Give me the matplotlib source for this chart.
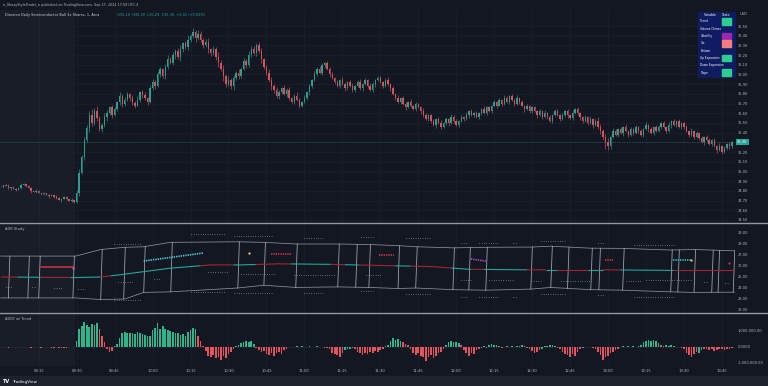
import numpy as np
import matplotlib.pyplot as plt
from matplotlib.lines import Line2D
from matplotlib.patches import Rectangle

W, H = 768, 386
BG = '#131722'
TXT = '#b2b5be'
UP, DN = '#26a69a', '#ef5350'
C_UP, C_DN = '#2f9c8c', '#d2545e'

# 1-minute closes, 09:00 .. 13:49
closes = [
    34.84, 34.86, 34.85, 34.83, 34.84, 34.82, 34.81, 34.83, 34.86, 34.87,
    34.85, 34.83, 34.80, 34.79, 34.80, 34.78, 34.77, 34.78, 34.76, 34.75,
    34.76, 34.74, 34.73, 34.71, 34.72, 34.74, 34.72, 34.70, 34.71, 34.69,
    34.78, 34.98, 35.15, 35.32, 35.45, 35.58, 35.50, 35.62, 35.55, 35.44,
    35.48, 35.56, 35.60, 35.66, 35.58, 35.64, 35.72, 35.78, 35.70, 35.74,
    35.80, 35.76, 35.71, 35.68, 35.74, 35.82, 35.79, 35.76, 35.72, 35.86,
    35.92, 35.88, 36.00, 36.06, 35.98, 36.08, 36.16, 36.12, 36.20, 36.24,
    36.18, 36.26, 36.32, 36.28, 36.36, 36.40, 36.44, 36.38, 36.42, 36.36,
    36.30, 36.34, 36.26, 36.22, 36.26, 36.18, 36.12, 36.06, 35.98, 35.90,
    35.94, 35.88, 35.96, 36.02, 35.98, 36.06, 36.14, 36.10, 36.20, 36.26,
    36.22, 36.30, 36.24, 36.16, 36.08, 36.02, 35.94, 35.88, 35.84, 35.78,
    35.82, 35.86, 35.80, 35.84, 35.76, 35.72, 35.78, 35.74, 35.68, 35.72,
    35.76, 35.82, 35.88, 35.94, 36.00, 36.06, 36.02, 36.10, 36.12, 36.06,
    36.00, 35.96, 35.92, 35.88, 35.94, 35.90, 35.86, 35.92, 35.88, 35.84,
    35.88, 35.92, 35.86, 35.90, 35.94, 35.88, 35.84, 35.90, 35.94, 35.96,
    35.92, 35.88, 35.94, 35.90, 35.86, 35.80, 35.76, 35.72, 35.76, 35.70,
    35.66, 35.72, 35.68, 35.64, 35.70, 35.66, 35.62, 35.58, 35.54, 35.58,
    35.52, 35.48, 35.54, 35.50, 35.46, 35.50, 35.54, 35.50, 35.56, 35.52,
    35.48, 35.52, 35.56, 35.54, 35.58, 35.62, 35.58, 35.60, 35.56, 35.60,
    35.64, 35.60, 35.66, 35.62, 35.68, 35.72, 35.68, 35.74, 35.70, 35.76,
    35.72, 35.78, 35.74, 35.70, 35.76, 35.72, 35.68, 35.64, 35.68, 35.62,
    35.66, 35.62, 35.58, 35.62, 35.56, 35.60, 35.56, 35.52, 35.58, 35.62,
    35.58, 35.54, 35.58, 35.62, 35.58, 35.55, 35.60, 35.64, 35.60, 35.56,
    35.52, 35.56, 35.50, 35.54, 35.48, 35.52, 35.46, 35.42, 35.36, 35.30,
    35.26, 35.36, 35.42, 35.38, 35.44, 35.40, 35.46, 35.42, 35.38, 35.44,
    35.40, 35.46, 35.42, 35.38, 35.44, 35.48, 35.44, 35.40, 35.46, 35.42,
    35.46, 35.50, 35.46, 35.42, 35.48, 35.52, 35.48, 35.52, 35.46, 35.50,
    35.46, 35.42, 35.38, 35.42, 35.36, 35.40, 35.34, 35.30, 35.36, 35.32,
    35.28, 35.32, 35.26, 35.22, 35.26, 35.20, 35.24, 35.28, 35.26, 35.30,
]
# wick lengths in cents
wick_up = ("1012011021" "0110210101" "1021011020" "3524346352" "2432321423"
           "2132412313" "3242134232" "3423524243" "2341325342" "4232413243"
           "3243124323" "2132312421" "3121423212" "2312132123" "1231213212"
           "2123121312" "2131212321" "1212312132" "2121312121" "1312121213"
           "2121312121" "1212131212" "2121213121" "1213124323" "5232121312"
           "1212131212" "2121312121" "1213121312" "2121312121")
wick_dn = ("0101201010" "1020101102" "0110201012" "2313243232" "3242312342"
           "1323123231" "2313232124" "2432332423" "3243234253" "2342321322"
           "2324232432" "3213212132" "1232121321" "3121213212" "2123121231"
           "1212312121" "3121213212" "2131212312" "1212131212" "2121213121"
           "1212121312" "2131212121" "1212312123" "2121312347" "4321213121"
           "2121213121" "1212131212" "2121312131" "1213121232")

# ADDY histogram, millions
addy = [
    -0.02, -0.03, 0.00, -0.04, -0.02, -0.03, -0.01, -0.02, -0.03, -0.02,
    -0.03, -0.02, -0.04, -0.03, -0.02, -0.03, -0.04, -0.02, -0.03, -0.02,
    -0.04, -0.05, -0.03, -0.04, -0.06, -0.05, -0.04, -0.03, -0.02, -0.03,
    0.40, 1.10, 1.30, 1.55, 1.40, 1.25, 1.45, 1.35, 1.50, 1.10,
    0.70, 0.30, -0.15, -0.30, -0.25, 0.05, 0.20, 0.55, 0.85, 0.95,
    0.85, 0.90, 0.88, 0.82, 0.92, 0.86, 0.80, 0.75, 0.68, 0.70,
    1.05, 1.20, 1.50, 1.15, 1.30, 1.10, 1.05, 1.00, 0.95, 0.90,
    0.85, 0.75, 0.80, 0.70, 0.95, 1.05, 1.20, 1.10, 0.70, 0.40,
    0.05, -0.25, -0.55, -0.65, -0.50, -0.70, -0.60, -0.80, -0.55, -0.70,
    -0.45, -0.30, -0.15, 0.05, 0.15, 0.25, 0.30, 0.35, 0.30, 0.40,
    0.20, -0.05, -0.20, -0.30, -0.25, -0.45, -0.50, -0.40, -0.55, -0.35,
    -0.30, -0.45, -0.20, -0.10, 0.02, 0.03, -0.02, 0.04, 0.02, 0.05,
    0.03, 0.02, 0.05, 0.03, 0.02, 0.04, 0.03, 0.02, -0.05, -0.08,
    -0.15, -0.35, -0.45, -0.50, -0.60, -0.40, -0.20, -0.10, -0.15, -0.05,
    -0.10, -0.30, -0.40, -0.50, -0.35, -0.45, -0.30, -0.40, -0.25, -0.30,
    -0.20, -0.10, 0.05, 0.15, 0.35, 0.55, 0.45, 0.50, 0.40, 0.30,
    0.20, 0.10, -0.15, -0.35, -0.50, -0.40, -0.55, -0.65, -0.85, -0.60,
    -0.50, -0.70, -0.55, -0.40, -0.30, -0.15, 0.10, 0.30, 0.35, 0.30,
    0.32, 0.28, 0.10, -0.20, -0.40, -0.55, -0.35, -0.45, -0.20, -0.10,
    -0.05, 0.05, -0.08, 0.10, 0.20, 0.15, 0.10, 0.05, -0.05, 0.03,
    0.05, 0.03, 0.08, -0.03, 0.04, 0.06, 0.10, 0.08, -0.05, -0.15,
    -0.25, -0.35, -0.30, -0.20, -0.10, 0.05, 0.08, 0.10, 0.15, 0.08,
    -0.05, -0.15, -0.30, -0.45, -0.50, -0.60, -0.45, -0.55, -0.30, -0.10,
    -0.05, 0.03, 0.02, -0.02, -0.05, -0.10, -0.30, -0.50, -0.80, -0.65,
    -0.55, -0.40, -0.30, -0.20, -0.10, 0.03, 0.05, 0.02, 0.04, 0.03,
    0.05, 0.02, 0.06, 0.15, 0.30, 0.40, 0.45, 0.38, 0.42, 0.35,
    0.25, 0.10, 0.08, 0.12, 0.06, 0.10, 0.05, 0.02, 0.03, -0.05,
    -0.15, -0.35, -0.50, -0.65, -0.45, -0.30, -0.40, -0.20, -0.10, -0.15,
    -0.20, -0.15, -0.25, -0.20, -0.10, -0.15, -0.20, -0.10, -0.15, -0.05,
]
addy_col = ("rrrrrrrrrr" "rrrrrrrrrr" "rrrrrrrrrr" "gggggggggr" "rrrrrggggg"
            "gggggggggg" "gggggggggg" "ggggggggrr" "rrrrrrrrrr" "rrrggggggg"
            "grrrrrrrrr" "rrrrggrggg" "ggggrgggrr" "rrrrrrgggg" "rrrrrrrrrr"
            "rrgggggggr" "rrrrrrrrrr" "rrrrrrgggg" "ggrrrrrrrr" "ggrgggggrg"
            "gggrggggrr" "rrrrgggggg" "rrrrrrrrrr" "gggrrrrrrr" "rrrrrggrgg"
            "grgggggggg" "grgggggrgr" "rrrrrrggrr" "rrrrrrrrrr")

time_ticks = [15, 30, 45, 60, 75, 90, 105, 120, 135, 150, 165, 180, 195,
              210, 225, 240, 255, 270, 285]
time_labels = ['09:15', '09:30', '09:45', '10:00', '10:15', '10:30', '10:45',
               '11:00', '11:15', '11:30', '11:45', '12:00', '12:15', '12:30',
               '12:45', '13:00', '13:15', '13:30', '13:45']

# ADR study: envelope knots (bar index, value)
adr_upper = [(0, 26.9), (29.6, 26.9), (39.5, 27.5), (49, 27.7), (56.5, 27.75),
             (67, 28.15), (93.7, 28.2), (104, 28.15), (116.6, 28.0), (133, 28.0),
             (146, 27.95), (157, 27.85), (164, 27.75), (178.7, 27.65), (191.7, 27.7),
             (209.5, 27.72), (217.4, 27.8), (233, 27.62), (245.8, 27.6),
             (264.8, 27.45), (274, 27.5), (290, 27.38)]
adr_lower = [(0, 23.1), (29.6, 23.1), (39.5, 22.95), (49, 23.0), (56.5, 23.6),
             (67, 23.65), (93.7, 24.0), (104, 24.25), (116.6, 24.05), (133, 24.1),
             (146, 24.05), (157, 23.95), (164, 24.0), (178.7, 23.85), (191.7, 23.8),
             (209.5, 23.9), (217.4, 24.05), (233, 23.85), (245.8, 23.8),
             (264.8, 23.65), (274, 23.6), (290, 23.62)]
adr_edges = [3, 10.7, 15, 28.5, 39.5, 48.6, 56.5, 67.2, 93.7, 104, 116.6, 133.2,
             140.3, 145.5, 157, 164, 178.7, 185, 191.7, 209.5, 217.4, 224, 233.2,
             236.4, 245.8, 264.8, 267.6, 274, 281, 283.5, 289.5]
top_dots = [(44.7, 55.3, 28.0), (75.1, 88.9, 28.9), (92, 107.5, 28.7),
            (119.8, 127.3, 28.55), (142.3, 147, 28.6), (160, 170, 28.55),
            (181.8, 184.6, 28.1), (189, 196.4, 28.1), (202.5, 204, 28.1),
            (213.4, 223.3, 28.27), (236, 239, 28.1), (250.2, 266, 27.95)]
bot_dots = [(44.7, 55.3, 22.9), (75.1, 88.9, 23.64), (92, 107.5, 23.55),
            (119.8, 127.3, 23.55), (142.3, 147, 23.73), (160, 170, 23.45),
            (181.8, 184.6, 23.18), (189, 196.4, 23.18), (202.5, 204, 23.18),
            (213.4, 223.3, 23.45), (236, 239, 23.36), (250.2, 266, 23.18)]
mid_dots = [(2, 5, 24.1), (12.3, 13.5, 24.1), (21, 24.5, 24.0), (30.4, 32.8, 23.9),
            (46.2, 52.6, 24.55), (60.5, 63.2, 24.82), (81.8, 89.7, 25.45),
            (94.9, 108.7, 25.27), (115.8, 132.4, 25.18), (144.3, 150.2, 25.18),
            (181.8, 185.8, 24.73), (192.9, 202.4, 24.73), (209.5, 213.4, 24.64),
            (221.3, 233.2, 24.64), (247, 253, 24.64), (255, 272.7, 24.73),
            (277.9, 279, 24.55), (286.3, 287.3, 24.45)]
mid_line = [(0, 25.0), (29.6, 24.95), (39.5, 25.0), (47, 25.2), (67, 25.8),
            (83, 26.1), (95, 26.1), (110, 26.2), (130, 26.15), (150, 26.05),
            (170, 25.95), (185, 25.7), (210, 25.65), (240, 25.65), (265, 25.6),
            (290, 25.6)]
mid_breaks = [0, 6.7, 15.8, 27.7, 39.5, 43.5, 79, 92, 100.8, 114.6, 130.4, 136,
              141.5, 156, 162, 178, 185.8, 191, 208, 215.4, 220, 232, 238, 245,
              266, 290]
# short level marks: (x0, x1, y0, y1, colour, style)
adr_marks = [(15.8, 28.5, 25.9, 25.9, '#c2313b', '-'),
             (56.5, 80, 26.45, 27.18, '#4dd0e1', ':'),
             (106.7, 114.6, 27.1, 27.1, '#d4333f', ':'),
             (149.4, 155.3, 27.0, 27.0, '#d4333f', ':'),
             (185.8, 191.7, 26.64, 26.45, '#b04bc8', ':'),
             (239, 242, 26.55, 26.55, '#d4333f', ':'),
             (265.6, 272.7, 26.55, 26.55, '#2ec4b6', ':')]
adr_spots = [(28.5, 25.85, '#d05ce3'), (98, 27.18, '#e8e36a'),
             (272.9, 26.55, '#e8e36a'), (287.7, 26.27, '#d4333f')]

table_rows = ['Trend', 'Volume Climax', 'Volatility', 'Vix', 'Bottom',
              'Up Expansion', 'Down Expansion', 'Slope']
table_state = ['#2ecc8f', None, '#9c27b0', '#f77c80', None, '#2ecc8f', None, '#2ecc8f']

fig = plt.figure(figsize=(W / 100, H / 100), dpi=100, facecolor=BG)


def box(x0, y0, x1, y1):
    return [x0 / W, 1 - y1 / H, (x1 - x0) / W, (y1 - y0) / H]


def fx(x, y):
    return x / W, 1 - y / H


def style(ax, ylim, yt, ylab):
    ax.set_facecolor('none')
    ax.set_xlim(-0.3, 290.2)
    ax.set_ylim(*ylim)
    for s in ax.spines.values():
        s.set_visible(False)
    ax.yaxis.tick_right()
    ax.set_yticks(yt)
    ax.set_yticklabels(ylab)
    ax.tick_params(axis='y', length=0, pad=2.2, labelsize=2.6, labelcolor=TXT)
    ax.set_xticks(time_ticks)
    ax.tick_params(axis='x', length=0, labelbottom=False)
    for t in time_ticks:
        ax.axvline(t, color='#1c2030', lw=0.5, zorder=0)
    ax.axvspan(-0.3, 29.5, color='#2a2e39', alpha=0.3, lw=0, zorder=0)


# ---- price panel
ax = fig.add_axes(box(0, 10, 735, 222))
pt = np.round(np.arange(34.5, 36.51, 0.1), 2)
style(ax, (34.479, 36.665), pt, [f'{p:.2f}' for p in pt])
for p in pt:
    ax.axhline(p, color='#1c2030', lw=0.5, zorder=0)
c = np.array(closes)
o = np.r_[c[0], c[:-1]]
hi = np.maximum(o, c) + np.array([int(d) for d in wick_up]) / 100
lo = np.minimum(o, c) - np.array([int(d) for d in wick_dn]) / 100
xs = np.arange(len(c))
col = np.where(c >= o, C_UP, C_DN)
ax.vlines(xs, lo, hi, colors=col, lw=0.45, zorder=2)
ax.bar(xs, np.maximum(np.abs(c - o), 0.005), bottom=np.minimum(o, c),
       width=0.55, color=col, lw=0, zorder=3)
ax.axhline(c[-1], color=UP, lw=0.4, ls=(0, (1, 2)), zorder=1)
ax.text(1.003, c[-1], f'{c[-1]:.2f}', transform=ax.get_yaxis_transform(),
        fontsize=2.6, color='white', va='center', ha='left',
        bbox=dict(boxstyle='square,pad=0.3', fc=UP, ec='none'), zorder=5)

# table
tx = fig.add_axes(box(698, 12, 736, 78))
tx.set_xlim(0, 38)
tx.set_ylim(66, 0)
tx.axis('off')
tx.add_patch(Rectangle((0, 0), 38, 66, color='#0f1c62'))
tx.text(12, 2.6, 'Variable', fontsize=2.3, color='white', ha='center', va='center')
tx.text(28.5, 2.6, 'State', fontsize=2.3, color='white', ha='center', va='center')
for k, (name, sc) in enumerate(zip(table_rows, table_state)):
    yy = 9.2 + k * 7.35
    tx.text(2.5, yy, name, fontsize=2.1, color='white', ha='left', va='center')
    if sc:
        tx.add_patch(Rectangle((24, yy - 3.3), 9.3, 6.6, color=sc))

# ---- ADR panel
ax2 = fig.add_axes(box(0, 224, 735, 312))
at = [29, 28, 27, 26, 25, 24, 23, 22]
style(ax2, (21.818, 29.818), at, [f'{v:.2f}' for v in at])
EDGE = '#8c8f99'
ux, uy = zip(*adr_upper)
lx, ly = zip(*adr_lower)
ax2.plot(ux, uy, color=EDGE, lw=0.55)
ax2.plot(lx, ly, color=EDGE, lw=0.55)
for e in adr_edges:
    ax2.plot([e, e + 0.6], [np.interp(e, lx, ly), np.interp(e + 0.6, ux, uy)],
             color='#a7aab3', lw=0.55)
for segs in (top_dots, bot_dots, mid_dots):
    for x0, x1, v in segs:
        ax2.hlines(v, x0, x1, colors='#c9ccd4', lw=0.6, linestyles=(0, (0.6, 2.2)))
mx, my = zip(*mid_line)
for k in range(len(mid_breaks) - 1):
    a, b = mid_breaks[k], mid_breaks[k + 1]
    sx = [a] + [x for x in mx if a < x < b] + [b]
    ax2.plot(sx, np.interp(sx, mx, my), color='#a3262e' if k % 2 == 0 else '#26a69a',
             lw=0.8, solid_capstyle='butt')
for x0, x1, y0, y1, cc, ls in adr_marks:
    ax2.plot([x0, x1], [y0, y1], color=cc, lw=1.2,
             ls='-' if ls == '-' else (0, (0.8, 0.6)))
for x, v, cc in adr_spots:
    ax2.plot(x, v, 's', ms=1.4, color=cc, mew=0)

# ---- ADDY panel
ax3 = fig.add_axes(box(0, 314, 735, 366))
style(ax3, (-1.1875, 2.0625), [1, 0, -1], ['1,000,000.00', '0.0000', '-1,000,000.00'])
ax3.bar(np.arange(len(addy)), addy, width=0.65, lw=0,
        color=['#2fb58c' if k == 'g' else '#e2555f' for k in addy_col])
ax3.axhline(0, color='#2a2e39', lw=0.4, zorder=0)
ax3.set_xticklabels(time_labels)
ax3.tick_params(axis='x', labelbottom=True, labelsize=2.7, labelcolor=TXT, pad=2.5)

# separators, footer
for yy in (223, 313):
    fig.add_artist(Line2D([0, 1], [1 - yy / H] * 2, color='#9598a1', lw=1))
fig.add_artist(Rectangle(fx(0, 386), 1, 10 / H, color='#1e222d', transform=fig.transFigure))
fig.text(*fx(3, 381.5), 'TV', fontsize=3.5, color='white', weight='bold', va='center')
fig.text(*fx(12, 381.5), 'TradingView', fontsize=3, color='white', va='center')

# header texts
fig.text(*fx(3, 5), 'n_ShazyStyleTrader_n published on TradingView.com, Sep 27, 2024 17:59 UTC-4',
         fontsize=2.4, color=TXT, va='center')
fig.text(*fx(5, 15), 'Direxion Daily Semiconductor Bull 3x Shares, 1, Arca',
         fontsize=2.5, color='#d1d4dc', va='center')
fig.text(*fx(117, 15), 'O35.29  H35.30  L35.29  C35.30  +0.01 (+0.03%)',
         fontsize=2.5, color=UP, va='center')
fig.text(*fx(740, 14), 'USD', fontsize=2.6, color=TXT, va='center')
fig.text(*fx(5, 229), 'ADR Study', fontsize=2.6, color=TXT, va='center')
fig.text(*fx(5, 318.5), 'ADDY w/ Trend', fontsize=2.6, color=TXT, va='center')

fig.savefig('out.png', dpi=100, facecolor=BG)
